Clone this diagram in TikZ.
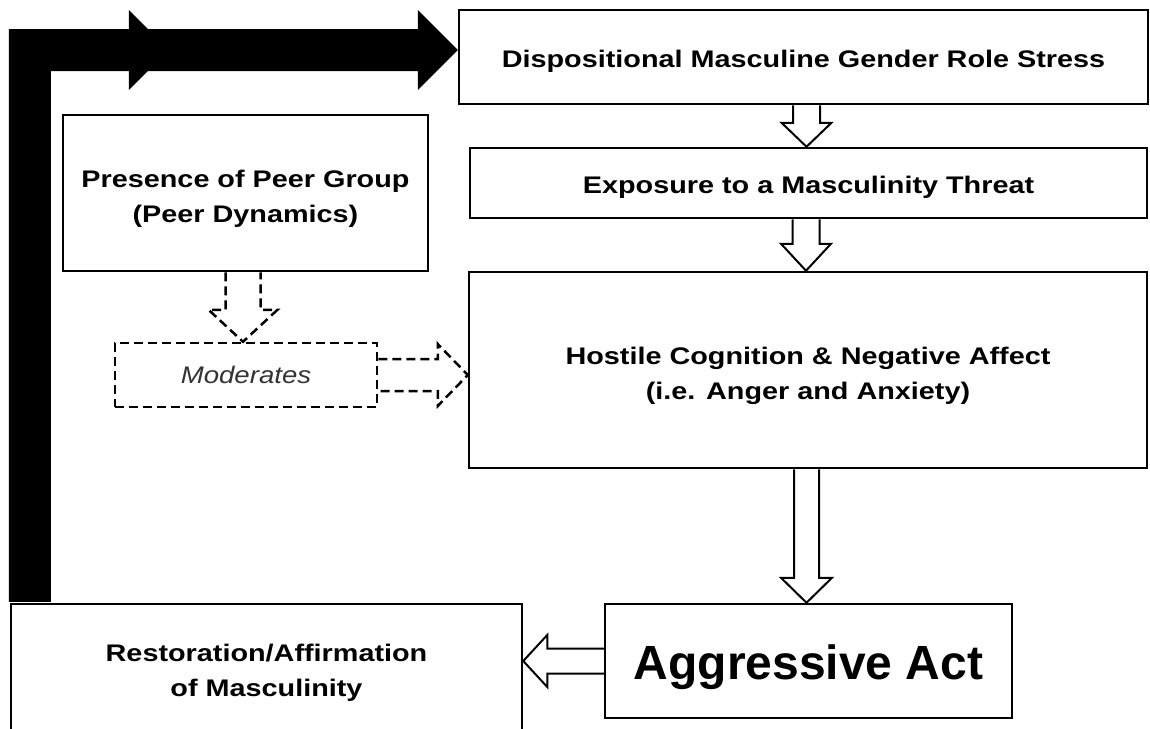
\documentclass[tikz,border=0pt]{standalone}
\usepackage{fontspec}
\setmainfont{Liberation Sans}
\newfontfamily\lblfont{Liberation Sans}[FakeStretch=1.2]
\newfontfamily\modfont{Liberation Sans}[FakeStretch=1.15]
\usetikzlibrary{calc}
% invisible strut that pushes a node's text down
\newcommand{\pushdn}[1]{\rule{0pt}{#1}}
% vertical hollow block arrow: style, start, tip, shaft half-width, head half-width, head length
\newcommand{\varrowblk}[6]{%
  \draw[#1] let \p1=(#2), \p2=(#3) in
    (\x2-#4pt,\y1) -- (\x2-#4pt,\y2+#6pt) -- (\x2-#5pt,\y2+#6pt) -- (\x2,\y2)
    -- (\x2+#5pt,\y2+#6pt) -- (\x2+#4pt,\y2+#6pt) -- (\x2+#4pt,\y1);}
% horizontal hollow block arrow: style, start, tip, shaft half-width, head half-width, signed head length
\newcommand{\harrowblk}[6]{%
  \draw[#1] let \p1=(#2), \p2=(#3) in
    (\x1,\y1+#4pt) -- (\x2+#6pt,\y1+#4pt) -- (\x2+#6pt,\y1+#5pt) -- (\x2,\y1)
    -- (\x2+#6pt,\y1-#5pt) -- (\x2+#6pt,\y1-#4pt) -- (\x1,\y1-#4pt);}
\begin{document}
\begin{tikzpicture}[x=1pt,y=-1pt,
  box/.style={draw,line width=2.5pt,fill=white,rectangle,inner sep=0pt,align=center,
    font=\lblfont\bfseries\fontsize{24}{35}\selectfont},
  modbox/.style={draw,line width=2.5pt,dash pattern=on 9pt off 5pt,fill=white,rectangle,
    inner sep=0pt,align=center,text=black!80,font=\modfont\itshape\fontsize{24}{30}\selectfont},
  blk/.style={draw,line width=2pt,fill=white,line join=miter},
  dblk/.style={blk,line width=2.5pt,dash pattern=on 9pt off 5pt},
  thick arrow/.style={fill=black}
]
\useasboundingbox (0,0) rectangle (1150,728);
\clip (0,0) rectangle (1150,728);
\fill[white] (0,0) rectangle (1150,728);

% boxes
\node[box,minimum width=689pt,minimum height=94pt] (disp) at (803.5,57)
  {\pushdn{26pt}Dispositional Masculine Gender Role Stress};
\node[box,minimum width=677pt,minimum height=70pt] (expo) at (808.5,183)
  {\pushdn{26pt}Exposure to a Masculinity Threat};
\node[box,minimum width=365pt,minimum height=156pt] (peer) at (245.5,193)
  {\pushdn{29pt}Presence of Peer Group\\(Peer Dynamics)};
\node[box,minimum width=678pt,minimum height=196pt] (host) at (808,370)
  {\pushdn{30pt}Hostile Cognition \& Negative Affect\\(i.e. Anger and Anxiety)};
\node[modbox,minimum width=262pt,minimum height=64pt] (mod) at (246,375) {Moderates};
\node[box,minimum width=407pt,minimum height=114pt,
  font=\setmainfont{Liberation Sans}\bfseries\fontsize{48}{58}\selectfont] (aggr) at (808.5,661)
  {\pushdn{48pt}Aggressive Act};
\node[box,minimum width=511pt,minimum height=131pt] (rest) at (266.5,669.5)
  {\pushdn{24pt}Restoration/Affirmation\\of Masculinity};

% thick black feedback arrow
\fill[thick arrow] let \p1=(rest.north west), \p2=([yshift=7pt]disp.west) in
  (\x1-1pt,\y1+1pt) -- (\x1-1pt,\y2+21pt) -- (\x2-40pt,\y2+21pt) -- (\x2-40pt,\y2+40pt)
  -- (\x2,\y2) -- (\x2-40pt,\y2-40pt) -- (\x2-40pt,\y2-21pt) -- (\x1+41pt,\y2-21pt)
  -- (\x1+41pt,\y1+1pt) -- cycle;
\fill[thick arrow] let \p1=(rest.north west), \p2=([yshift=7pt]disp.west) in
  (\x1+119pt,\y2+40pt) -- (\x1+159pt,\y2) -- (\x1+119pt,\y2-40pt) -- cycle;

% hollow block arrows
\varrowblk{blk}{disp.south}{[xshift=-2pt]expo.north}{13.5}{25}{24}
\varrowblk{blk}{expo.south}{[xshift=-2pt]host.north}{13.5}{25}{27}
\varrowblk{blk}{host.south}{[xshift=-2pt]aggr.north}{12.5}{25.5}{25}
\harrowblk{blk}{aggr.west}{rest.east}{12.5}{26}{24}

% dashed block arrows
\varrowblk{dblk}{peer.south}{[xshift=-3pt]mod.north}{17.5}{34.5}{32}
\harrowblk{dblk}{mod.east}{host.west}{16}{31}{-30}
\end{tikzpicture}
\end{document}
